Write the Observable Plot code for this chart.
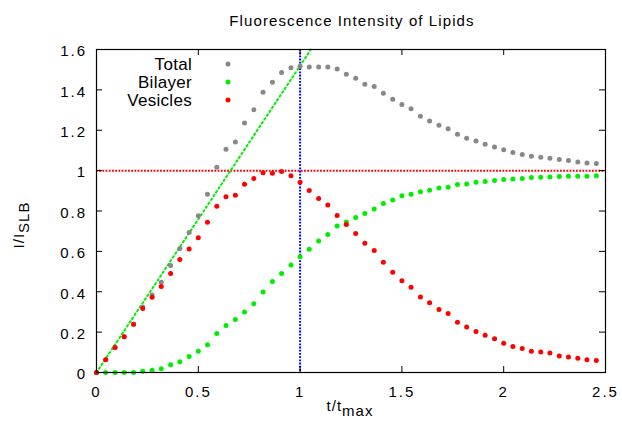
<!DOCTYPE html>
<html><head><meta charset="utf-8">
<script src="https://cdn.jsdelivr.net/npm/d3@7"></script>
<script src="https://cdn.jsdelivr.net/npm/@observablehq/plot@0.6"></script>
<style>
body{margin:0;background:#fff}
svg{display:block}
svg g[aria-label*="tick label"]{letter-spacing:2px}
</style>
</head><body><div id="chart"></div>
<script>
// ---- data ----
const title = "Fluorescence Intensity of Lipids";
const seriesNames = ["Total", "Bilayer", "Vesicles"];
const seriesColors = ["#888888", "#00ee00", "#ff0000"];
const tValues = [0,0.045,0.091,0.136,0.182,0.227,0.273,0.318,0.364,0.409,0.455,0.5,0.545,0.591,0.636,0.682,0.727,0.773,0.818,0.864,0.909,0.955,1,1.045,1.091,1.136,1.182,1.227,1.273,1.318,1.364,1.409,1.455,1.5,1.545,1.591,1.636,1.682,1.727,1.773,1.818,1.864,1.909,1.955,2,2.045,2.091,2.136,2.182,2.227,2.273,2.318,2.364,2.409,2.455];
const total = [0,0.063,0.124,0.177,0.239,0.325,0.384,0.447,0.530,0.614,0.693,0.776,0.883,1.017,1.106,1.142,1.236,1.302,1.388,1.438,1.486,1.509,1.517,1.513,1.513,1.513,1.504,1.477,1.458,1.428,1.417,1.383,1.354,1.327,1.306,1.269,1.246,1.225,1.208,1.180,1.160,1.147,1.131,1.117,1.103,1.090,1.080,1.071,1.066,1.061,1.055,1.050,1.043,1.038,1.035];
const bilayer = [0,0,0,0,0,0.006,0.011,0.018,0.038,0.053,0.079,0.105,0.137,0.193,0.233,0.262,0.300,0.340,0.399,0.451,0.490,0.533,0.573,0.611,0.652,0.683,0.726,0.746,0.768,0.787,0.810,0.837,0.855,0.875,0.883,0.895,0.903,0.914,0.918,0.931,0.934,0.943,0.946,0.951,0.956,0.959,0.961,0.966,0.967,0.969,0.971,0.972,0.972,0.972,0.974];
const vesicles = [0,0.063,0.124,0.177,0.239,0.317,0.373,0.426,0.490,0.560,0.612,0.668,0.744,0.823,0.870,0.878,0.933,0.961,0.989,0.987,0.996,0.974,0.943,0.901,0.862,0.830,0.778,0.733,0.688,0.640,0.604,0.546,0.497,0.454,0.422,0.374,0.345,0.312,0.292,0.249,0.226,0.203,0.185,0.167,0.145,0.129,0.119,0.105,0.101,0.096,0.082,0.077,0.071,0.063,0.059];
const tangentX = [0, 1.053];
const tangentY = [0, 1.6];
const refY = [1];
const refX = [1];
const xTicks = [0, 0.5, 1, 1.5, 2, 2.5];
const yTicks = [0, 0.2, 0.4, 0.6, 0.8, 1, 1.2, 1.4, 1.6];

// ---- layout ----
const W = 622, H = 427, mL = 96, mR = 17, mT = 49, mB = 55;
const innerW = W - mL - mR, innerH = H - mT - mB;
const font = "'Liberation Sans', Arial, Helvetica, sans-serif";
const fmt = d3.format("~g");
const series = [total, bilayer, vesicles];

const plot = Plot.plot({
  width: W, height: H,
  marginLeft: mL, marginRight: mR, marginTop: mT, marginBottom: mB,
  style: {fontFamily: font, fontSize: "15px", background: "#fff", color: "#000", overflow: "visible"},
  x: {domain: [0, 2.5]},
  y: {domain: [0, 1.6]},
  marks: [
    Plot.ruleY(refY, {stroke: "#ff0000", strokeWidth: 2, strokeDasharray: "1.8,1.4"}),
    Plot.ruleX(refX, {stroke: "#0000ff", strokeWidth: 2, strokeDasharray: "1.8,1.4"}),
    Plot.line(tangentY, {x: tangentX, y: tangentY, stroke: "#00ee00", strokeWidth: 2, strokeDasharray: "1.6,3"}),
    ...series.map((s, i) => Plot.dot(s, {x: tValues, y: s, r: 2.5, fill: seriesColors[i], stroke: "none"})),
    Plot.frame({stroke: "#000", strokeWidth: 1.2}),
    Plot.tickX(xTicks, {x: d => d, insetTop: innerH - 6, stroke: "#000"}),
    Plot.tickX(xTicks, {x: d => d, insetBottom: innerH - 6, stroke: "#000"}),
    Plot.tickY(yTicks, {y: d => d, insetRight: innerW - 6, stroke: "#000"}),
    Plot.tickY(yTicks, {y: d => d, insetLeft: innerW - 6, stroke: "#000"}),
    Plot.axisX({ticks: xTicks, tickSize: 0, tickPadding: 13.7, tickFormat: fmt, label: null}),
    Plot.axisY({ticks: yTicks, tickSize: 0, tickPadding: 9.5, tickFormat: fmt, label: null, dy: 2})
  ]
});

const svg = d3.select(plot);
// title
svg.append("text").attr("x", 352).attr("y", 26).attr("text-anchor", "middle")
  .style("font-family", font).style("font-size", "15px").style("letter-spacing", "1.1px")
  .text(title);
// x label
const xl = svg.append("text").attr("x", 350).attr("y", 411).attr("text-anchor", "middle")
  .style("font-family", font).style("font-size", "15px").style("letter-spacing", "1px");
xl.append("tspan").text("t/t");
xl.append("tspan").attr("dy", 4.5).text("max");
// y label
const yl = svg.append("text").attr("transform", "translate(24,225) rotate(-90)").attr("text-anchor", "middle")
  .style("font-family", font).style("font-size", "15px").style("letter-spacing", "1px");
yl.append("tspan").text("I/I");
yl.append("tspan").attr("dy", 4.5).text("SLB");
// legend
seriesNames.forEach((name, i) => {
  svg.append("text").attr("x", 192).attr("y", 64 + i * 18).attr("dy", "0.36em").attr("text-anchor", "end")
    .style("font-family", font).style("font-size", "17px").style("letter-spacing", "0.3px").text(name);
  svg.append("circle").attr("cx", 228).attr("cy", 64 + i * 18).attr("r", 2.5).attr("fill", seriesColors[i]);
});

document.getElementById("chart").append(plot);
</script>
</body></html>
